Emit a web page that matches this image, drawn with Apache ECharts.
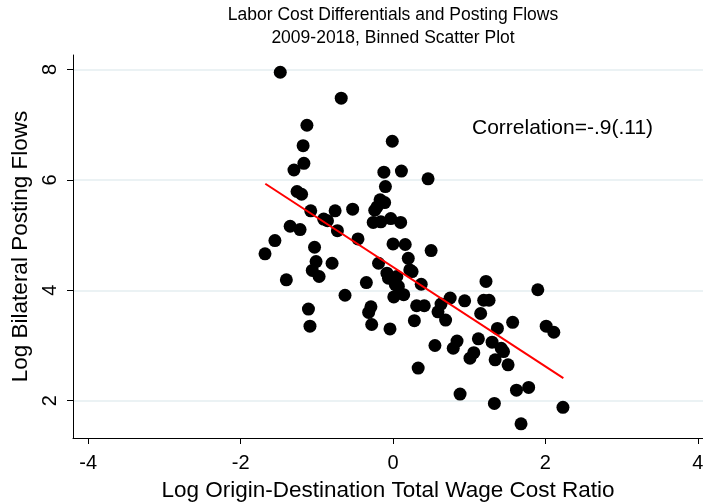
<!DOCTYPE html>
<html>
<head>
<meta charset="utf-8">
<script src="https://cdn.jsdelivr.net/npm/echarts@6/dist/echarts.min.js"></script>
<style>html,body{margin:0;padding:0;background:#fff}#c{width:703px;height:502px}</style>
</head>
<body>
<div id="c"></div>
<script>
const titleLines = ["Labor Cost Differentials and Posting Flows", "2009-2018, Binned Scatter Plot"];
const xTitle = "Log Origin-Destination Total Wage Cost Ratio";
const yTitle = "Log Bilateral Posting Flows";
const annotation = "Correlation=-.9(.11)";
const xTicks = [-4, -2, 0, 2, 4];
const yTicks = [2, 4, 6, 8];
const xRange = [-4.2, 4.068];
const yRange = [1.324, 8.263];

const xVals = [-1.48,-0.68,-1.13,-1.18,-1.17,-1.30,-1.26,-1.20,-1.08,-0.91,-0.86,-0.76,-0.53,-0.73,-1.35,-1.22,-1.55,-1.68,-1.03,-0.46,
  -1.01,-1.06,-0.97,-0.80,-1.40,-0.63,-1.11,-1.09,-0.01,-0.12,0.11,-0.10,0.46,-0.17,-0.11,-0.21,-0.24,-0.26,-0.16,-0.03,
  0.10,0.00,0.16,0.50,-0.19,0.20,-0.08,-0.06,0.05,0.03,0.07,0.22,0.25,0.37,-0.35,1.22,0.01,0.14,0.31,0.41,
  0.59,0.63,0.75,0.69,0.28,0.94,1.19,1.26,1.15,1.57,1.37,1.90,2.01,2.11,-0.29,-0.32,-0.28,-0.04,0.55,0.84,
  0.79,1.12,1.30,1.42,1.45,1.06,1.01,1.34,1.51,0.33,0.88,1.62,1.78,1.33,2.23,1.68];
const yVals = [7.95,7.48,6.99,6.62,6.30,6.18,5.79,5.74,5.44,5.29,5.26,5.44,5.47,5.08,5.16,5.10,4.90,4.66,4.78,4.93,
  4.52,4.36,4.25,4.49,4.19,3.91,3.66,3.35,6.70,6.14,6.16,5.88,6.02,5.64,5.59,5.51,5.45,5.23,5.24,5.30,
  5.23,4.84,4.83,4.72,4.49,4.58,4.31,4.22,4.25,4.10,4.07,4.37,4.34,4.11,4.14,4.16,3.88,3.92,3.72,3.72,
  3.61,3.75,3.86,3.46,3.45,3.81,3.82,3.82,3.58,3.42,3.31,4.01,3.35,3.24,3.70,3.60,3.38,3.30,3.00,3.08,
  2.95,3.12,3.06,2.95,2.89,2.87,2.77,2.74,2.65,2.59,2.12,2.19,2.24,1.95,1.88,1.58];
const fitX = [-1.676, 2.235];
const fitY = [5.93, 2.41];

const FONT = "'Liberation Sans', Arial, Helvetica, sans-serif";
const chart = echarts.init(document.getElementById('c'), null, {renderer: 'canvas'});
const pts = xVals.map((x, i) => [x, yVals[i]]);
const fit = fitX.map((x, i) => [x, fitY[i]]);

chart.setOption({
  animation: false,
  backgroundColor: '#ffffff',
  grid: {left: 73, right: 0, top: 55, bottom: 64, containLabel: false, outerBoundsMode: 'none'},
  xAxis: {
    type: 'value', min: xRange[0], max: xRange[1],
    name: xTitle, nameLocation: 'middle', nameGap: 41,
    nameTextStyle: {fontFamily: FONT, fontSize: 22.5, color: '#000'},
    axisLine: {show: true, onZero: false, lineStyle: {color: '#000', width: 1}},
    axisTick: {show: true, length: 6, customValues: xTicks, lineStyle: {color: '#000'}},
    axisLabel: {customValues: xTicks, fontFamily: FONT, fontSize: 20, color: '#000', margin: 15},
    splitLine: {show: false}
  },
  yAxis: {
    type: 'value', min: yRange[0], max: yRange[1],
    name: yTitle, nameLocation: 'middle', nameGap: 33, nameRotate: 90,
    nameTextStyle: {fontFamily: FONT, fontSize: 22.5, color: '#000'},
    axisLine: {show: true, onZero: false, lineStyle: {color: '#000', width: 1}},
    axisTick: {show: true, length: 6, customValues: yTicks, lineStyle: {color: '#000'}},
    axisLabel: {customValues: yTicks, rotate: 90, fontFamily: FONT, fontSize: 20, color: '#000', margin: 13},
    splitLine: {show: true, lineStyle: {color: '#e4eef1', width: 1.5}}
  },
  graphic: [
    {type: 'text', x: 393, y: 24, style: {text: titleLines[0], fontFamily: FONT, fontSize: 17.5, fill: '#000', textAlign: 'center', textVerticalAlign: 'bottom'}},
    {type: 'text', x: 393, y: 47, style: {text: titleLines[1], fontFamily: FONT, fontSize: 17.5, fill: '#000', textAlign: 'center', textVerticalAlign: 'bottom'}},
    {type: 'text', x: 472, y: 128, style: {text: annotation, fontFamily: FONT, fontSize: 21, fill: '#000', textAlign: 'left', textVerticalAlign: 'middle'}}
  ],
  series: [
    {type: 'scatter', data: pts, symbol: 'circle', symbolSize: 13, itemStyle: {color: '#000', opacity: 1}, z: 3},
    {type: 'line', data: fit, symbol: 'none', lineStyle: {color: '#ff0000', width: 2}, z: 4}
  ]
});
</script>
</body>
</html>
